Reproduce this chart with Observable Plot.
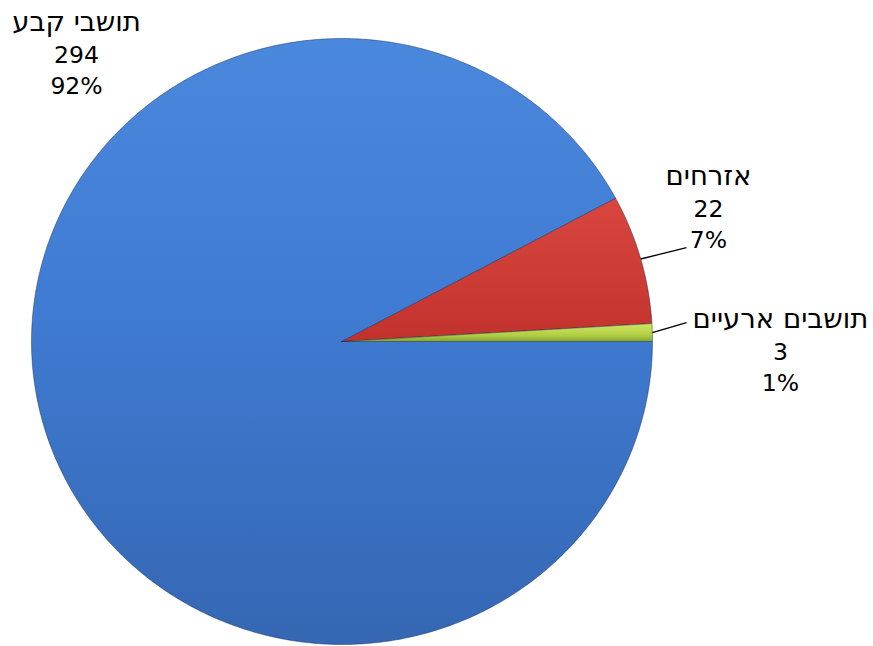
<!DOCTYPE html>
<html><head><meta charset="utf-8">
<script src="https://cdn.jsdelivr.net/npm/d3@7"></script>
<script src="https://cdn.jsdelivr.net/npm/@observablehq/plot@0.6"></script>
<style>body{margin:0;background:#fff} #chart svg{display:block}</style>
</head><body><div id="chart"></div>
<script>
// ---- data ----
const categories = ["תושבים ארעיים", "אזרחים", "תושבי קבע"];
const values = [3, 22, 294];
const percents = ["1%", "7%", "92%"];

// ---- styles / layout (not data) ----
const fills = ["url(#g-green)", "url(#g-red)", "url(#g-blue)"];
// label (category-name line) anchor in unit-pie coordinates
const labelPos = [[1.412, 0.0726], [1.180, 0.545], [-0.855, 1.053]];
const leaderEnd = [[1.1095, 0.0627], [1.1095, 0.310], null];

const rows = categories.map((c, i) => ({category: c, value: values[i], pct: percents[i], i}));
const pie = d3.pie().sort(null).value(d => d.value)
  .startAngle(Math.PI / 2).endAngle(Math.PI / 2 - 2 * Math.PI);
const slices = pie(rows);

const pts = [];
for (const s of slices.slice().reverse()) {
  const n = Math.max(6, Math.ceil(Math.abs(s.endAngle - s.startAngle) * 180 / Math.PI) * 2);
  pts.push({cat: s.data.category, x: 0, y: 0});
  for (let k = 0; k <= n; k++) {
    const a = s.startAngle + (s.endAngle - s.startAngle) * k / n;
    pts.push({cat: s.data.category, x: Math.sin(a), y: Math.cos(a)});
  }
  pts.push({cat: s.data.category, x: 0, y: 0});
}

const labels = slices.map(s => ({
  name: s.data.category,
  nums: `${s.data.value}\n${s.data.pct}`,
  x: labelPos[s.data.i][0], y: labelPos[s.data.i][1]
}));
const leaders = slices.filter(s => leaderEnd[s.data.i]).map(s => {
  const a = (s.startAngle + s.endAngle) / 2;
  return {x1: Math.sin(a), y1: Math.cos(a), x2: leaderEnd[s.data.i][0], y2: leaderEnd[s.data.i][1]};
});

const font = "DejaVu Sans, Verdana, sans-serif";
const plot = Plot.plot({
  width: 873, height: 646,
  margin: 0,
  x: {domain: [-1, 1], range: [31, 652], axis: null},
  y: {domain: [-1, 1], range: [644, 38], axis: null},
  color: {domain: categories, range: fills},
  style: {background: "#fff"},
  marks: [
    Plot.line(pts, {x: "x", y: "y", z: "cat", fill: "cat", stroke: "rgba(20,40,80,0.45)", strokeWidth: 1, curve: "linear"}),
    Plot.link(leaders, {x1: "x1", y1: "y1", x2: "x2", y2: "y2", stroke: "#000", strokeWidth: 1.3}),
    Plot.text(labels, {x: "x", y: "y", text: "name", fontSize: 27.5,
      fontFamily: font, fill: "#000", textAnchor: "middle", lineAnchor: "middle"}),
    Plot.text(labels, {x: "x", y: "y", text: "nums", fontSize: 23.5, lineHeight: 1.32, dy: 46,
      fontFamily: font, fill: "#000", textAnchor: "middle", lineAnchor: "middle"})
  ]
});

const ns = "http://www.w3.org/2000/svg";
const defs = document.createElementNS(ns, "defs");
function grad(id, y1, y2, stops) {
  const g = document.createElementNS(ns, "linearGradient");
  g.setAttribute("id", id);
  g.setAttribute("gradientUnits", "userSpaceOnUse");
  g.setAttribute("x1", 0); g.setAttribute("x2", 0);
  g.setAttribute("y1", y1); g.setAttribute("y2", y2);
  for (const [o, c] of stops) {
    const s = document.createElementNS(ns, "stop");
    s.setAttribute("offset", o); s.setAttribute("stop-color", c);
    g.appendChild(s);
  }
  defs.appendChild(g);
}
grad("g-blue", 38, 644, [[0, "#4a88dd"], [0.45, "#3f7bd2"], [1, "#3567b3"]]);
grad("g-red", 195, 343, [[0, "#d9473f"], [1, "#c2322c"]]);
grad("g-green", 322, 343, [[0, "#d2e866"], [0.6, "#b2cf45"], [1, "#6f9a2e"]]);
plot.insertBefore(defs, plot.firstChild);
document.getElementById("chart").appendChild(plot);
</script>
</body></html>
